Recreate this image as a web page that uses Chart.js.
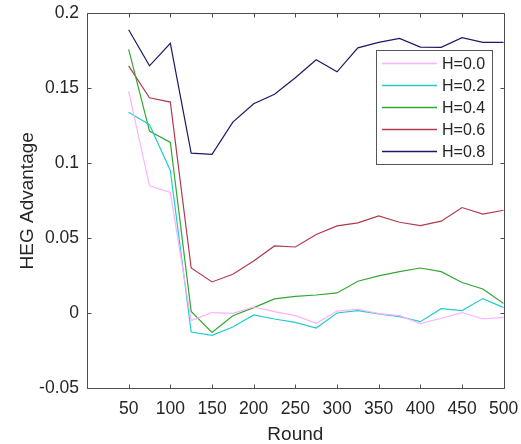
<!DOCTYPE html>
<html>
<head>
<meta charset="utf-8">
<script src="https://cdn.jsdelivr.net/npm/chart.js@4.4.1/dist/chart.umd.min.js"></script>
<style>
  html, body { margin: 0; padding: 0; background: #fff; }
  #wrap { width: 521px; height: 444px; }
</style>
</head>
<body>
<div id="wrap"><canvas id="chart" width="521" height="444"></canvas></div>
<script>
// Rounds sampled every 25 from 50 to 500
const rounds = [50, 75, 100, 125, 150, 175, 200, 225, 250, 275, 300, 325, 350, 375, 400, 425, 450, 475, 500];

const h00 = [0.148, 0.085, 0.0805, -0.0049, 0.0005, 0.0, 0.0042, 0.0011, -0.0016, -0.0067, 0.0015, 0.0027, -0.0002, -0.0016, -0.0069, -0.0033, 0.0005, -0.0038, -0.0027];
const h02 = [0.134, 0.1257, 0.0952, -0.0125, -0.0147, -0.0091, -0.0011, -0.0038, -0.006, -0.0098, 0.0002, 0.0018, -0.0004, -0.0022, -0.0056, 0.0031, 0.0018, 0.0098, 0.0038];
const h04 = [0.176, 0.1215, 0.1139, 0.0013, -0.0127, -0.0016, 0.0038, 0.0096, 0.0113, 0.0122, 0.0136, 0.0214, 0.0249, 0.0278, 0.0302, 0.0278, 0.0205, 0.0162, 0.0065];
const h06 = [0.165, 0.1437, 0.1408, 0.0302, 0.0209, 0.026, 0.0349, 0.0449, 0.0442, 0.0525, 0.0583, 0.0603, 0.0649, 0.0607, 0.0585, 0.0614, 0.0705, 0.0661, 0.0687];
const h08 = [0.189, 0.165, 0.180, 0.1068, 0.106, 0.1275, 0.1397, 0.146, 0.157, 0.169, 0.161, 0.177, 0.1806, 0.1833, 0.1775, 0.1773, 0.1837, 0.1806, 0.1806];

const seriesLabels = ['H=0.0', 'H=0.2', 'H=0.4', 'H=0.6', 'H=0.8'];
const seriesValues = [h00, h02, h04, h06, h08];
const seriesColors = ['#ffb0ff', '#22cccc', '#33a833', '#b03a4e', '#1a1a66'];

const FONT = 'Liberation Sans, Arial, Helvetica, sans-serif';
const AXIS_COLOR = '#4d4d4d';

// box around the axes with inward tick marks on all four sides
const boxTicks = {
  id: 'boxTicks',
  afterDatasetsDraw(chart) {
    const { ctx, chartArea: a, scales } = chart;
    const L = Math.round(a.left) + 0.5, R = Math.round(a.right) + 0.5;
    const T = Math.round(a.top) + 0.5, B = Math.round(a.bottom) + 0.5;
    const len = 4;
    ctx.save();
    ctx.strokeStyle = AXIS_COLOR;
    ctx.lineWidth = 1;
    ctx.beginPath();
    ctx.rect(L, T, R - L, B - T);
    scales.x.ticks.forEach(t => {
      const x = Math.round(scales.x.getPixelForValue(t.value)) + 0.5;
      ctx.moveTo(x, B); ctx.lineTo(x, B - len);
      ctx.moveTo(x, T); ctx.lineTo(x, T + len);
    });
    scales.y.ticks.forEach(t => {
      const y = Math.round(scales.y.getPixelForValue(t.value)) + 0.5;
      ctx.moveTo(L, y); ctx.lineTo(L + len, y);
      ctx.moveTo(R, y); ctx.lineTo(R - len, y);
    });
    ctx.stroke();
    ctx.restore();
  }
};

// boxed legend in the upper right of the axes
const boxLegend = {
  id: 'boxLegend',
  afterDatasetsDraw(chart) {
    const { ctx } = chart;
    const bx = 376.5, by = 50.5, bw = 116, bh = 114;
    const rowY = [63, 85, 107, 129, 151];
    ctx.save();
    ctx.fillStyle = '#fff';
    ctx.fillRect(bx, by, bw, bh);
    ctx.strokeStyle = '#555';
    ctx.lineWidth = 1;
    ctx.strokeRect(bx, by, bw, bh);
    ctx.font = '16px ' + FONT;
    ctx.textBaseline = 'middle';
    seriesLabels.forEach((label, i) => {
      const y = rowY[i] + 0.5;
      ctx.strokeStyle = seriesColors[i];
      ctx.lineWidth = 1.4;
      ctx.beginPath();
      ctx.moveTo(382, y);
      ctx.lineTo(437, y);
      ctx.stroke();
      ctx.fillStyle = '#262626';
      ctx.fillText(label, 442, y + 1);
    });
    ctx.restore();
  }
};

new Chart(document.getElementById('chart'), {
  type: 'line',
  data: {
    labels: rounds,
    datasets: seriesLabels.map((label, i) => ({
      label,
      data: rounds.map((r, j) => ({ x: r, y: seriesValues[i][j] })),
      borderColor: seriesColors[i],
      borderWidth: 1.2,
      pointRadius: 0,
      tension: 0,
      fill: false
    }))
  },
  options: {
    responsive: false,
    animation: false,
    layout: { padding: { top: 13.3, right: 17.3, left: 0, bottom: 0 } },
    plugins: {
      legend: { display: false },
      tooltip: { enabled: false }
    },
    scales: {
      x: {
        type: 'linear',
        min: 0,
        max: 500,
        afterFit: s => { s.height = 55.7; s.paddingLeft = 0; s.paddingRight = 0; },
        grid: { display: false, drawTicks: false },
        border: { display: false },
        ticks: {
          stepSize: 50,
          padding: 10,
          color: '#262626',
          font: { family: FONT, size: 17.5 },
          maxRotation: 0,
          autoSkip: false,
          callback: v => (v === 0 ? '' : String(v))
        },
        title: {
          display: true,
          text: 'Round',
          color: '#262626',
          font: { family: FONT, size: 19, lineHeight: 1 },
          padding: { top: 0, bottom: 0 }
        }
      },
      y: {
        min: -0.05,
        max: 0.2,
        afterFit: s => { s.width = 87; s.paddingTop = 0; s.paddingBottom = 0; },
        grid: { display: false, drawTicks: false },
        border: { display: false },
        ticks: {
          stepSize: 0.05,
          padding: 8,
          color: '#262626',
          font: { family: FONT, size: 17.5 },
          callback: v => String(Number(v.toFixed(2)))
        },
        title: {
          display: true,
          text: 'HEG Advantage',
          color: '#262626',
          font: { family: FONT, size: 19, lineHeight: 1 },
          padding: { top: 18, bottom: 0 }
        }
      }
    }
  },
  plugins: [boxTicks, boxLegend]
});
</script>
</body>
</html>
